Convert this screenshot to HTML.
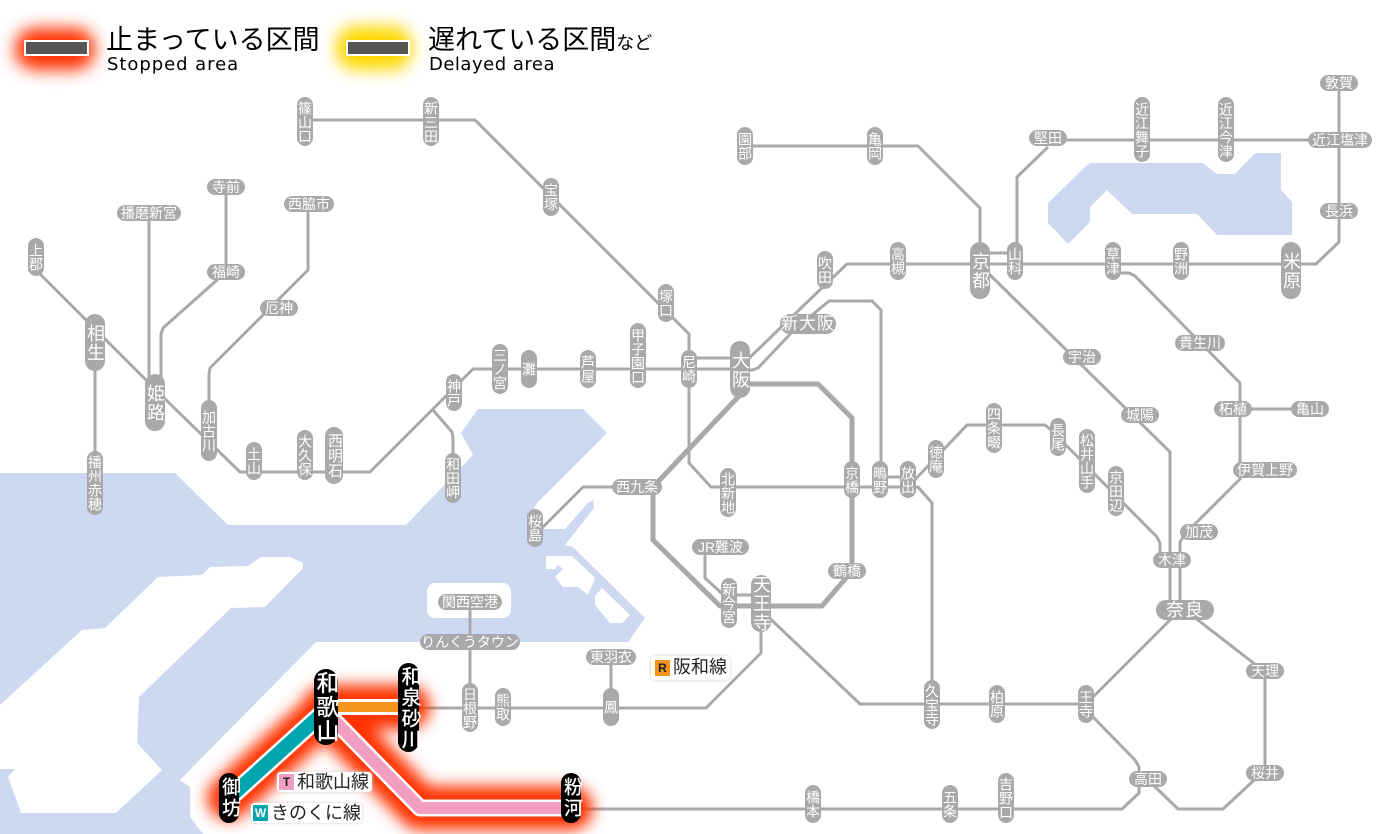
<!DOCTYPE html>
<html lang="ja"><head><meta charset="utf-8"><title>路線図</title>
<style>
html,body{margin:0;padding:0;background:#fff}
#m{position:relative;width:1400px;height:834px;overflow:hidden;background:#fff;font-family:"Liberation Sans","Noto Sans CJK JP",sans-serif}
svg{position:absolute;left:0;top:0}
.n{position:absolute;background:#a9a8aa;color:#fff;white-space:nowrap;text-align:center;box-sizing:border-box}
.v{writing-mode:vertical-rl;text-orientation:upright;width:16px;line-height:16px;font-size:14px;border-radius:8px}
.h{height:16px;line-height:16px;font-size:14px;border-radius:8px}
.bv{writing-mode:vertical-rl;text-orientation:upright;width:20px;line-height:20px;font-size:18px;border-radius:10px;letter-spacing:1px}
.bh{height:20px;line-height:20px;font-size:18px;border-radius:10px;letter-spacing:1px}
.k{background:#000;color:#fff;font-weight:500}
.lg{position:absolute;background:#fff;border-radius:4px;box-shadow:0 0 3px #ccc;color:#222;font-size:18px;line-height:20px;white-space:nowrap}
.lg b{display:inline-block;width:15px;height:16px;line-height:16px;text-align:center;font-size:12px;margin:2px 3px 0 2px;vertical-align:top;font-family:"Liberation Sans",sans-serif}
.t{position:absolute;white-space:nowrap;color:#000}
</style></head><body><div id="m">
<svg width="1400" height="834" viewBox="0 0 1400 834" xmlns="http://www.w3.org/2000/svg">
<defs>
<filter id="b8" x="-50%" y="-90%" width="200%" height="280%"><feGaussianBlur stdDeviation="8"/></filter>
<filter id="b6" filterUnits="userSpaceOnUse" x="150" y="620" width="500" height="214"><feGaussianBlur stdDeviation="7.5"/></filter>
</defs>
<g fill="#ccd9f0" stroke="none">
<polygon points="0,473 175,473 228,525 406,525 473,455 461,433 478,409 583,409 607,433 537,503 527,520 545,529 565,529 588,503 593,500 594,508 565,545 573,547 645,618 628,642 316,642 180,780 190,787 190,817 203,834 0,834"/>
<polygon points="1090,163 1203,163 1217,174 1235,174 1255,153 1281,153 1281,190 1292,202 1292,235 1217,235 1197,214 1132,214 1107,190 1090,207 1090,222 1068,244 1048,223 1048,203 1085,167"/>
</g>
<g fill="#fff" stroke="none">
<polygon points="303,563 290,557 261,557 248,566 210,567 202,575 158,577 105,628 82,630 0,705 0,769 15,769 8,777 21,813 116,813 162,770 137,743 139,697 231,608 265,607 303,568"/>
<rect x="427" y="583" width="84" height="35" rx="8"/>
<polygon points="546,556 572,556 595,578 588,595 578,587 563,587 555,577 563,569 558,565 555,569 546,569"/>
<polygon points="602,588 630,615 622,623 610,623 595,605 595,596"/>
</g>
<!-- legend glows -->
<rect x="15" y="28" width="80" height="42" rx="20" fill="#ff3300" filter="url(#b8)"/>
<rect x="336" y="26" width="76" height="44" rx="20" fill="#ffd800" filter="url(#b8)"/>
<rect x="25" y="41" width="63" height="14" fill="#555" stroke="#fff" stroke-width="2"/>
<rect x="347" y="41" width="62" height="14" fill="#555" stroke="#fff" stroke-width="2"/>
<!-- lines -->
<g fill="none" stroke="#aaa8ab" stroke-width="3" stroke-linejoin="round" stroke-linecap="butt">
<path d="M305 120H475L660 305L674 319L689 334V463L711 487H908"/>
<path d="M36 270L163 397L240 472H370L473 369H740"/>
<path d="M689 358H740"/>
<path d="M95 340V470"/>
<path d="M149 213V385"/>
<path d="M226 187V272"/>
<path d="M226 272L163 328L161 334V385"/>
<path d="M308 204V270L210 368L209 374V410"/>
<path d="M433 410L452 432L453 438V460"/>
<path d="M740 370H752L758 368L794 330L829 301H872L881 310V470"/>
<path d="M745 362L825 285L847 264H1316L1339 242V83"/>
<path d="M745 146H918L980 208V250"/>
<path d="M980 253H1015"/>
<path d="M1340 140H1048"/>
<path d="M1048 147L1017 177V250"/>
<path d="M985 270L1170 452V605"/>
<path d="M1113 273H1129L1135 276L1240 383V470"/>
<path d="M1232 409H1310"/>
<path d="M1241 478L1185 534L1180 542V605"/>
<path d="M908 487L967 425H1045L1050 429L1157 537L1160 543V560"/>
<path d="M908 487H918L932 503V690"/>
<path d="M880 477H908"/>
<path d="M761 610L860 704H1086L1175 615"/>
<path d="M1185 610L1265 672V773"/>
<path d="M1093 717L1135 760L1139 767V793L1122 809H571"/>
<path d="M1148 780L1178 809H1223L1265 770"/>
<path d="M761 630V653L706 708H408"/>
<path d="M470 602V700"/>
<path d="M611 657V705"/>
<path d="M637 487H583L535 535"/>
<path d="M705 550V578L729 600"/>
<path d="M729 595H761"/>
</g>
<g fill="none" stroke="#aaa8ab" stroke-width="5" stroke-linejoin="round">
<path d="M740 384H818L852 418V571"/>
<path d="M852 571L822 606H720L653 540V487L740 395"/>
</g>
<!-- stopped glow -->
<g fill="none" stroke-linejoin="round" stroke-linecap="round">
<path d="M229 798L325 711M325 711L420 808H571M325 707H408" stroke="#ff3300" stroke-width="44" filter="url(#b6)"/>
</g>
<g fill="none" stroke-linejoin="round" stroke-linecap="butt">
<path d="M229 798L325 711" stroke="#fff" stroke-width="19"/>
<path d="M229 798L325 711" stroke="#00a5ad" stroke-width="14"/>
<path d="M325 707H408" stroke="#fff" stroke-width="16"/>
<path d="M325 707H408" stroke="#f7941d" stroke-width="10"/>
<path d="M325 711L420 808H571" stroke="#fff" stroke-width="17"/>
<path d="M325 711L420 808H571" stroke="#f19ec2" stroke-width="12"/>
</g>
</svg>

<!-- legend text -->
<div class="t" style="left:106px;top:25px;font-size:27px;line-height:30px">止まっている区間</div>
<div class="t" style="left:107px;top:54px;font-size:18px;line-height:22px;font-family:'DejaVu Sans',sans-serif;letter-spacing:.95px">Stopped area</div>
<div class="t" style="left:428px;top:25px;font-size:27px;line-height:30px">遅れている区間<span style="font-size:18px">など</span></div>
<div class="t" style="left:429px;top:54px;font-size:18px;line-height:22px;font-family:'DejaVu Sans',sans-serif;letter-spacing:.5px">Delayed area</div>

<!-- vertical nodes -->
<div class="n v" style="left:297px;top:97px;height:49px">篠山口</div>
<div class="n v" style="left:423px;top:97px;height:49px">新三田</div>
<div class="n v" style="left:543px;top:178px;height:38px">宝塚</div>
<div class="n v" style="left:28px;top:238px;height:38px">上郡</div>
<div class="n bv" style="left:85px;top:314px;height:57px">相生</div>
<div class="n bv" style="left:145px;top:374px;height:57px">姫路</div>
<div class="n v" style="left:201px;top:400px;height:61px">加古川</div>
<div class="n v" style="left:246px;top:442px;height:38px">土山</div>
<div class="n v" style="left:297px;top:430px;height:50px">大久保</div>
<div class="n v" style="left:325px;top:427px;height:57px;width:18px;line-height:18px;border-radius:9px;font-size:15px">西明石</div>
<div class="n v" style="left:87px;top:451px;height:64px">播州赤穂</div>
<div class="n v" style="left:446px;top:374px;height:37px">神戸</div>
<div class="n v" style="left:492px;top:344px;height:50px">三ノ宮</div>
<div class="n v" style="left:521px;top:350px;height:38px">灘</div>
<div class="n v" style="left:580px;top:350px;height:38px">芦屋</div>
<div class="n v" style="left:630px;top:323px;height:65px">甲子園口</div>
<div class="n v" style="left:681px;top:350px;height:38px">尼崎</div>
<div class="n v" style="left:658px;top:284px;height:38px">塚口</div>
<div class="n bv" style="left:730px;top:341px;height:57px">大阪</div>
<div class="n v" style="left:445px;top:453px;height:50px">和田岬</div>
<div class="n v" style="left:527px;top:509px;height:38px">桜島</div>
<div class="n v" style="left:720px;top:468px;height:49px">北新地</div>
<div class="n v" style="left:844px;top:461px;height:37px">京橋</div>
<div class="n v" style="left:872px;top:461px;height:37px">鴫野</div>
<div class="n v" style="left:900px;top:461px;height:37px">放出</div>
<div class="n v" style="left:928px;top:440px;height:38px">徳庵</div>
<div class="n v" style="left:986px;top:403px;height:50px">四条畷</div>
<div class="n v" style="left:1050px;top:418px;height:38px">長尾</div>
<div class="n v" style="left:1079px;top:429px;height:64px">松井山手</div>
<div class="n v" style="left:1108px;top:466px;height:50px">京田辺</div>
<div class="n v" style="left:721px;top:578px;height:50px">新今宮</div>
<div class="n bv" style="left:751px;top:575px;height:57px">天王寺</div>
<div class="n v" style="left:924px;top:680px;height:49px">久宝寺</div>
<div class="n v" style="left:989px;top:685px;height:38px">柏原</div>
<div class="n v" style="left:1078px;top:685px;height:38px">王寺</div>
<div class="n v" style="left:998px;top:773px;height:50px">吉野口</div>
<div class="n v" style="left:942px;top:785px;height:38px">五条</div>
<div class="n v" style="left:805px;top:785px;height:38px">橋本</div>
<div class="n v" style="left:462px;top:683px;height:49px">日根野</div>
<div class="n v" style="left:495px;top:688px;height:38px">熊取</div>
<div class="n v" style="left:603px;top:688px;height:38px">鳳</div>
<div class="n v" style="left:737px;top:127px;height:38px">園部</div>
<div class="n v" style="left:867px;top:127px;height:38px">亀岡</div>
<div class="n v" style="left:817px;top:251px;height:38px">吹田</div>
<div class="n v" style="left:890px;top:242px;height:38px">高槻</div>
<div class="n bv" style="left:970px;top:242px;height:57px">京都</div>
<div class="n v" style="left:1007px;top:242px;height:38px">山科</div>
<div class="n v" style="left:1105px;top:242px;height:38px">草津</div>
<div class="n v" style="left:1173px;top:242px;height:38px">野洲</div>
<div class="n bv" style="left:1281px;top:242px;height:57px">米原</div>
<div class="n v" style="left:1134px;top:97px;height:65px">近江舞子</div>
<div class="n v" style="left:1218px;top:97px;height:65px">近江今津</div>

<!-- horizontal nodes -->
<div class="n h" style="left:207px;top:179px;width:38px">寺前</div>
<div class="n h" style="left:117px;top:205px;width:64px">播磨新宮</div>
<div class="n h" style="left:284px;top:196px;width:50px">西脇市</div>
<div class="n h" style="left:207px;top:264px;width:38px">福崎</div>
<div class="n h" style="left:260px;top:300px;width:38px">厄神</div>
<div class="n h" style="left:612px;top:479px;width:50px">西九条</div>
<div class="n h" style="left:692px;top:539px;width:57px">JR難波</div>
<div class="n h" style="left:828px;top:563px;width:38px">鶴橋</div>
<div class="n h" style="left:438px;top:594px;width:64px">関西空港</div>
<div class="n h" style="left:420px;top:634px;width:100px">りんくうタウン</div>
<div class="n h" style="left:586px;top:649px;width:50px">東羽衣</div>
<div class="n bh" style="left:780px;top:314px;width:56px;font-size:17px">新大阪</div>
<div class="n h" style="left:1029px;top:130px;width:38px">堅田</div>
<div class="n h" style="left:1308px;top:132px;width:64px">近江塩津</div>
<div class="n h" style="left:1320px;top:75px;width:38px">敦賀</div>
<div class="n h" style="left:1320px;top:203px;width:38px">長浜</div>
<div class="n h" style="left:1063px;top:349px;width:38px">宇治</div>
<div class="n h" style="left:1175px;top:335px;width:50px">貴生川</div>
<div class="n h" style="left:1121px;top:407px;width:38px">城陽</div>
<div class="n h" style="left:1214px;top:401px;width:38px">柘植</div>
<div class="n h" style="left:1291px;top:401px;width:38px">亀山</div>
<div class="n h" style="left:1233px;top:462px;width:64px">伊賀上野</div>
<div class="n h" style="left:1180px;top:524px;width:38px">加茂</div>
<div class="n h" style="left:1153px;top:552px;width:38px">木津</div>
<div class="n bh" style="left:1156px;top:600px;width:58px">奈良</div>
<div class="n h" style="left:1246px;top:663px;width:38px">天理</div>
<div class="n h" style="left:1129px;top:771px;width:38px">高田</div>
<div class="n h" style="left:1246px;top:765px;width:38px">桜井</div>

<!-- black nodes -->
<div class="n bv k" style="left:314px;top:669px;height:76px;width:24px;line-height:24px;border-radius:12px;font-size:23px;letter-spacing:1px">和歌山</div>
<div class="n bv k" style="left:398px;top:663px;height:89px;width:21px;line-height:21px;border-radius:11px;font-size:20px;letter-spacing:1px">和泉砂川</div>
<div class="n bv k" style="left:219px;top:773px;height:50px;width:20px;font-size:19px;letter-spacing:2px">御坊</div>
<div class="n bv k" style="left:561px;top:773px;height:50px;width:20px;font-size:19px;letter-spacing:2px">粉河</div>

<!-- line labels -->
<div class="lg" style="left:651px;top:656px;height:24px;width:79px;line-height:22px"><b style="background:#f7941d;color:#222;margin-top:4px;margin-left:4px">R</b>阪和線</div>
<div class="lg" style="left:277px;top:772px;height:20px;width:95px"><b style="background:#f19ec2;color:#222">T</b>和歌山線</div>
<div class="lg" style="left:251px;top:803px;height:20px;width:111px"><b style="background:#00a5ad;color:#fff">W</b>きのくに線</div>
</div></body></html>
